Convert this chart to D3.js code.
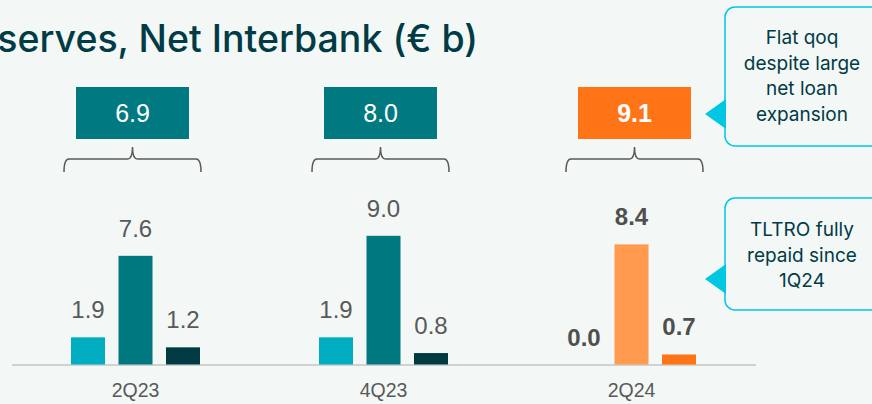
<!DOCTYPE html>
<html>
<head>
<meta charset="utf-8">
<script src="https://cdn.jsdelivr.net/npm/d3@7"></script>
<style>
  html, body { margin: 0; padding: 0; background: #f3f7f5; }
  svg { display: block; }
</style>
</head>
<body>
<div class="canvas"></div>
<script>
// data
const quarters = ["2Q23", "4Q23", "2Q24"];
const seriesKeys = ["seriesA", "seriesB", "seriesC"];
const seriesA = [1.9, 1.9, 0.0];
const seriesB = [7.6, 9.0, 8.4];
const seriesC = [1.2, 0.8, 0.7];
const totals = [6.9, 8.0, 9.1];
const title = "serves, Net Interbank (€ b)";
const callout1 = ["Flat qoq", "despite large", "net loan", "expansion"];
const callout2 = ["TLTRO fully", "repaid since", "1Q24"];

const width = 872;
const height = 404;
const baseY = 364.5;

// colours
const normalColors = ["#00adc1", "#00787f", "#003a42"];
const latestColors = ["#ff9a4f", "#ff9a4f", "#ff7417"];
const boxNormal = "#007a80";
const boxLatest = "#ff7417";
const textGrey = "#595959";
const darkTeal = "#003b46";
const cyan = "#00c8e3";

const svg = d3.select(".canvas")
  .append("svg")
  .attr("width", width)
  .attr("height", height);

svg.append("rect")
  .attr("width", width)
  .attr("height", height)
  .attr("fill", "#f3f7f5");

// title (cut off on the left like the slide)
svg.append("text")
  .attr("x", 478)
  .attr("y", 52)
  .attr("text-anchor", "end")
  .attr("font-family", "Inter, 'Open Sans', sans-serif")
  .attr("font-weight", 500)
  .attr("font-size", 37.5)
  .attr("fill", darkTeal)
  .text(title);

// scales
const x0 = d3.scaleBand().domain(quarters).range([11.5, 755.5]);
const x1 = d3.scaleBand().domain(seriesKeys).range([-64.5, 64.5]).paddingInner(0.284);
const y = d3.scaleLinear().domain([0, 10]).range([baseY, baseY - 143]);

const rows = quarters.map((q, i) => ({
  quarter: q,
  index: i,
  latest: i === quarters.length - 1,
  values: [seriesA[i], seriesB[i], seriesC[i]].map((v, j) => ({ key: seriesKeys[j], value: v, j }))
}));

const groupCenter = q => x0(q) + x0.bandwidth() / 2;

// axis line + category labels
const xAxis = d3.axisBottom(x0).tickSize(0).tickPadding(19);
const xAxisGroup = svg.append("g")
  .attr("transform", `translate(0, ${baseY})`)
  .call(xAxis);
xAxisGroup.select(".domain")
  .attr("stroke", "#c4c4c4")
  .attr("stroke-width", 1.5);
xAxisGroup.selectAll("text")
  .attr("font-family", "'Liberation Sans', Arial, sans-serif")
  .attr("font-size", 19.5)
  .attr("fill", textGrey);

// bars
const groups = svg.selectAll("g.quarter")
  .data(rows)
  .enter()
  .append("g")
  .attr("class", "quarter")
  .attr("transform", d => `translate(${groupCenter(d.quarter)}, 0)`);

groups.selectAll("rect")
  .data(d => d.values.map(v => ({ ...v, latest: d.latest })))
  .enter()
  .append("rect")
    .attr("x", d => x1(d.key))
    .attr("width", x1.bandwidth())
    .attr("y", d => y(d.value))
    .attr("height", d => baseY - y(d.value))
    .attr("fill", d => (d.latest ? latestColors : normalColors)[d.j]);

groups.selectAll("text.val")
  .data(d => d.values.map(v => ({ ...v, latest: d.latest })))
  .enter()
  .append("text")
    .attr("class", "val")
    .attr("x", d => x1(d.key) + x1.bandwidth() / 2)
    .attr("y", d => y(d.value) - 19)
    .attr("text-anchor", "middle")
    .attr("font-family", "'Liberation Sans', Arial, sans-serif")
    .attr("font-size", 24)
    .attr("font-weight", d => d.latest ? "bold" : "normal")
    .attr("fill", d => d.latest ? "#4f4f4f" : textGrey)
    .text(d => d.value.toFixed(1));

// total boxes and braces
const nudge = [-3, -3, 3];
const annot = groups.append("g")
  .attr("transform", (d, i) => `translate(${nudge[i]}, 0)`);

annot.append("rect")
  .attr("x", -56.5)
  .attr("y", 87)
  .attr("width", 113)
  .attr("height", 52)
  .attr("fill", d => d.latest ? boxLatest : boxNormal);

annot.append("text")
  .attr("y", 122)
  .attr("text-anchor", "middle")
  .attr("font-family", "'Liberation Sans', Arial, sans-serif")
  .attr("font-size", 25)
  .attr("font-weight", d => d.latest ? "bold" : "normal")
  .attr("fill", "#fff")
  .text(d => totals[d.index].toFixed(1));

const brace = (x0b, x1b, top, bottom, tip) => {
  const r = 5;
  return `M${x0b},${bottom} Q${x0b},${top} ${x0b + r},${top} L${-r},${top} ` +
    `Q0,${top} 0,${tip} Q0,${top} ${r},${top} L${x1b - r},${top} Q${x1b},${top} ${x1b},${bottom}`;
};

annot.append("path")
  .attr("d", brace(-68.5, 68.5, 159, 172, 147))
  .attr("fill", "none")
  .attr("stroke", "#5a5a5a")
  .attr("stroke-width", 1.5);

// callouts on the right
const drawCallout = (top, bottom, tipY, lines, firstBaseline) => {
  const g = svg.append("g");
  g.append("rect")
    .attr("x", 725)
    .attr("y", top)
    .attr("width", 200)
    .attr("height", bottom - top)
    .attr("rx", 10)
    .attr("fill", "#f3f7f5")
    .attr("stroke", cyan)
    .attr("stroke-width", 1.5);
  g.append("path")
    .attr("d", `M705,${tipY} L726,${tipY - 15} L726,${tipY + 15} Z`)
    .attr("fill", cyan);
  g.selectAll("text")
    .data(lines)
    .enter()
    .append("text")
      .attr("x", 802)
      .attr("y", (d, i) => firstBaseline + i * 25.5)
      .attr("text-anchor", "middle")
      .attr("font-family", "Inter, 'Open Sans', sans-serif")
      .attr("font-size", 19)
      .attr("fill", darkTeal)
      .text(d => d);
};

drawCallout(7, 146, 114, callout1, 44);
drawCallout(198, 310, 279, callout2, 236);
</script>
</body>
</html>
